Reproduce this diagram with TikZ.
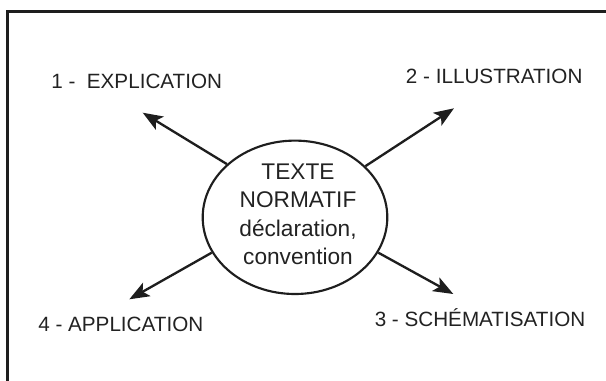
\documentclass[tikz,border=0pt]{standalone}
\usepackage{fontspec}
\setmainfont{Liberation Sans}
\usetikzlibrary{shapes.geometric,arrows.meta}
\definecolor{ink}{HTML}{1E1E1E}
\definecolor{txt}{HTML}{222222}
\begin{document}
\begin{tikzpicture}[x=0.75pt,y=-0.75pt,
  lbl/.style={anchor=base,inner sep=0pt,text=txt,font=\fontsize{15.5}{18}\selectfont},
  arr/.style={draw=ink,line width=1.75pt,-{Stealth[length=15pt,width=11.5pt,inset=3.5pt]}},
  frame/.style={draw=ink,line width=1.9pt}]
\useasboundingbox (0,0) rectangle (606,380);
\clip (0,0) rectangle (606,380);
\draw[frame] (7.3,11.3) rectangle (640,420);
\node[ellipse,draw=ink,line width=1.6pt,minimum width=184.6*0.75pt,minimum height=153.4*0.75pt,inner sep=0pt] (c) at (295,217.3) {};
\node[align=center,inner sep=0pt,text=txt,font=\fontsize{17}{21.4}\selectfont] (ct) at (298,214.2) {TEXTE\\NORMATIF\\déclaration,\\convention};
\node[lbl] (l1) at (136.7,88.3) {1 -\ \ EXPLICATION};
\node[lbl] (l2) at (494.2,83.3) {2 - ILLUSTRATION};
\node[lbl] (l4) at (120.8,331) {4 - APPLICATION};
\node[lbl] (l3) at (480,326) {3 - SCHÉMATISATION};
\coordinate (t1) at (142.7,112.7);
\coordinate (t2) at (454,108.3);
\coordinate (t4) at (129.3,299.3);
\coordinate (t3) at (453.3,294);
\draw[arr] (c.142.6) -- (t1);
\draw[arr] (c.36.9) -- (t2);
\draw[arr] (c.203.8) -- (t4);
\draw[arr] (c.337.8) -- (t3);
\end{tikzpicture}
\end{document}
